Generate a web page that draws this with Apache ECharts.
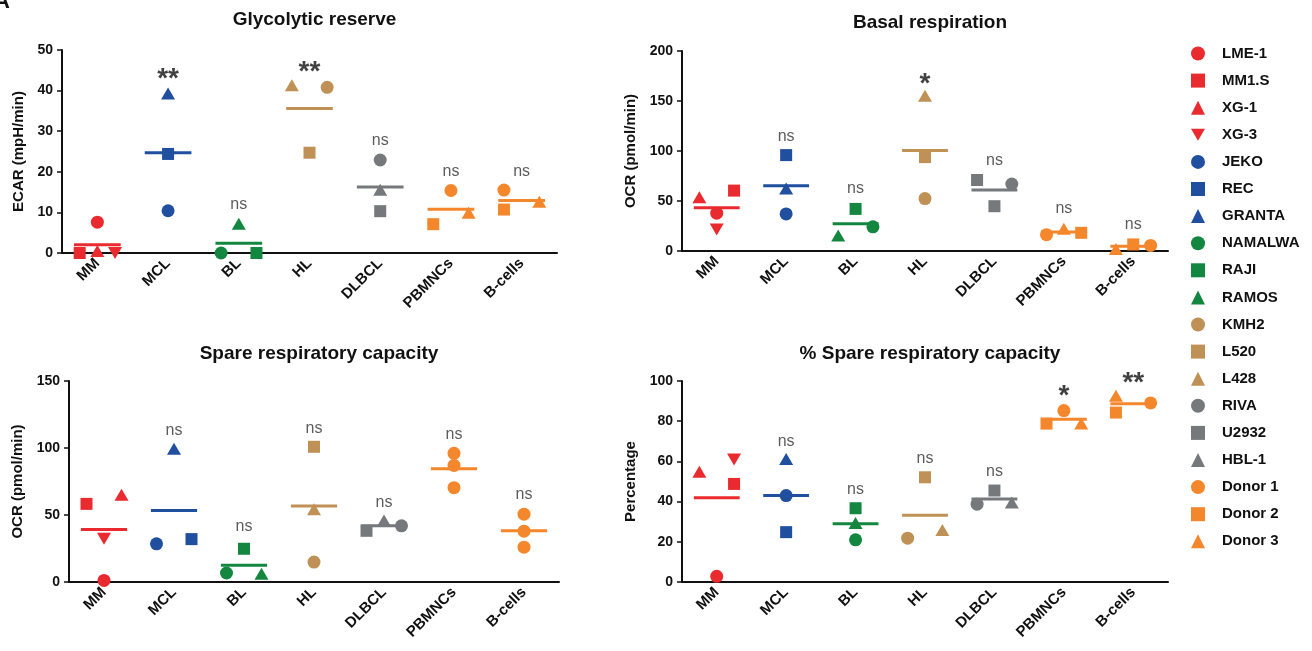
<!DOCTYPE html>
<html>
<head>
<meta charset="utf-8">
<script src="https://cdn.jsdelivr.net/npm/echarts@6/dist/echarts.min.js"></script>
<style>
html, body { margin: 0; padding: 0; background: #fff; }
#chart { width: 1312px; height: 651px; }
</style>
</head>
<body>
<div id="chart"></div>
<script>
var categories = ['MM', 'MCL', 'BL', 'HL', 'DLBCL', 'PBMNCs', 'B-cells'];
var cellLines = ['LME-1', 'MM1.S', 'XG-1', 'XG-3', 'JEKO', 'REC', 'GRANTA', 'NAMALWA', 'RAJI', 'RAMOS',
    'KMH2', 'L520', 'L428', 'RIVA', 'U2932', 'HBL-1', 'Donor 1', 'Donor 2', 'Donor 3'];

// one entry per plotted point: its cell line and its group
var pointLine = ['LME-1', 'MM1.S', 'XG-1', 'XG-3', 'JEKO', 'REC', 'GRANTA', 'NAMALWA', 'RAJI', 'RAMOS',
    'KMH2', 'L520', 'L428', 'RIVA', 'U2932', 'HBL-1', 'Donor 1', 'Donor 2', 'Donor 3', 'Donor 1', 'Donor 2', 'Donor 3'];
var pointGroup = [0, 0, 0, 0, 1, 1, 1, 2, 2, 2, 3, 3, 3, 4, 4, 4, 5, 5, 5, 6, 6, 6];

var glycolyticReserve = [7.6, 0, 0.5, 0, 10.4, 24.4, 39.3, 0, 0, 7.2, 40.8, 24.7, 41.3, 22.9, 10.3, 15.6, 15.4, 7.1, 9.9, 15.5, 10.7, 12.6];
var basalRespiration = [37.8, 60.4, 53.7, 21.6, 37.1, 95.9, 62.4, 24.2, 42.1, 15.6, 52.4, 93.9, 155.2, 67, 44.8, 71.0, 16.3, 18.2, 22.2, 5.6, 6.6, 2];
var spareCapacity = [1.2, 58.3, 65.2, 32.2, 28.5, 32, 99.4, 6.7, 24.8, 6.2, 14.9, 100.9, 54.3, 41.9, 38.2, 45.9, 96, 87, 70.4, 50.6, 37.9, 26];
var spareCapacityPct = [2.8, 48.8, 54.9, 61, 43, 24.8, 61.2, 21, 36.7, 29.3, 21.8, 52.1, 25.9, 38.7, 45.5, 39.5, 85.3, 78.8, 78.8, 89.1, 84.3, 92.6];

var glycolyticSig = ['', '**', 'ns', '**', 'ns', 'ns', 'ns'];
var glycolyticSigAt = [null, 44.1, 12.0, 45.8, 27.7, 20.1, 20.1];
var basalSig = ['', 'ns', 'ns', '*', 'ns', 'ns', 'ns'];
var basalSigAt = [null, 114.4, 62.4, 172, 90.2, 42.1, 26.2];
var spareSig = ['', 'ns', 'ns', 'ns', 'ns', 'ns', 'ns'];
var spareSigAt = [null, 112.8, 41.2, 114.8, 59, 110.3, 65.2];
var pctSig = ['', 'ns', 'ns', 'ns', 'ns', '*', '**'];
var pctSigAt = [null, 70.1, 45.8, 61.2, 54.7, 94.9, 101.2];

// horizontal slot of each point inside its group (-1 left, 0 centre, 1 right)
var glycolyticSlot = [0, -1, 0, 1, 0, 0, 0, -1, 1, 0, 1, 0, -1, 0, 0, 0, 0, -1, 1, -1, -1, 1];
var basalSlot = [0, 1, -1, 0, 0, 0, 0, 1, 0, -1, 0, 0, 0, 1, 0, -1, -1, 1, 0, 1, 0, -1];
var spareSlot = [0, -1, 1, 0, -1, 1, 0, -1, 0, 1, 0, 0, 0, 1, -1, 0, 0, 0, 0, 0, 0, 0];
var pctSlot = [0, 1, -1, 1, 0, 0, 0, 0, 0, 0, -1, 0, 1, -1, 0, 1, 0, -1, 1, 1, -1, -1];

var red = '#E92A2E', blue = '#1F4F9E', green = '#138740', tan = '#BF9156', gray = '#76787B', orange = '#F4862C';
var groupColors = [red, blue, green, tan, gray, orange, orange];
var downTriangle = 'path://M0,0L10,0L5,8.6Z';
var lineColor = [red, red, red, red, blue, blue, blue, green, green, green, tan, tan, tan, gray, gray, gray, orange, orange, orange];
var lineShape = ['circle', 'rect', 'triangle', downTriangle];
var lineShapeIdx = [0, 1, 2, 3, 0, 1, 2, 0, 1, 2, 0, 1, 2, 0, 1, 2, 0, 1, 2];

var panels = [
    { title: 'Glycolytic reserve', yName: 'ECAR (mpH/min)', values: glycolyticReserve, slot: glycolyticSlot, sig: glycolyticSig, sigAt: glycolyticSigAt, max: 50, interval: 10,
      grid: { left: 62, top: 50, width: 495, height: 203 }, titleTop: 5, nameGap: 36, over: {} },
    { title: 'Basal respiration', yName: 'OCR (pmol/min)', values: basalRespiration, slot: basalSlot, sig: basalSig, sigAt: basalSigAt, max: 200, interval: 50,
      grid: { left: 682, top: 51, width: 486, height: 200 }, titleTop: 8, nameGap: 44, over: { 15: 'rect' } },
    { title: 'Spare respiratory capacity', yName: 'OCR (pmol/min)', values: spareCapacity, slot: spareSlot, sig: spareSig, sigAt: spareSigAt, max: 150, interval: 50,
      grid: { left: 69, top: 381, width: 490, height: 201 }, titleTop: 339, nameGap: 44, over: { 17: 'circle', 18: 'circle', 20: 'circle', 21: 'circle' } },
    { title: '% Spare respiratory capacity', yName: 'Percentage', values: spareCapacityPct, slot: pctSlot, sig: pctSig, sigAt: pctSigAt, max: 100, interval: 20,
      grid: { left: 682, top: 381, width: 486, height: 201 }, titleTop: 339, nameGap: 44, over: {} }
];

function symbolSize(shape) {
    if (shape === 'circle') return 13;
    if (shape === 'rect') return 12;
    return [14, 12];
}

var grids = [], xAxes = [], yAxes = [], titles = [], series = [];

panels.forEach(function (p, k) {
    p.grid.outerBoundsMode = 'none';
    p.grid.containLabel = false;
    grids.push(p.grid);
    titles.push({
        text: p.title,
        left: p.grid.left + p.grid.width / 2,
        top: p.titleTop,
        textAlign: 'center',
        textStyle: { fontFamily: 'Liberation Sans', fontWeight: 'bold', fontSize: 19, color: '#111' }
    });
    xAxes.push({
        type: 'category', gridIndex: k, data: categories, boundaryGap: true,
        axisLine: { onZero: false, lineStyle: { color: '#111', width: 2 } },
        axisTick: { alignWithLabel: true, length: 5, lineStyle: { color: '#111', width: 1.5 } },
        axisLabel: { rotate: 45, margin: 8, color: '#111', fontFamily: 'Liberation Sans', fontWeight: 'bold', fontSize: 15 }
    });
    xAxes.push({ type: 'value', gridIndex: k, min: -0.5, max: 6.5, show: false });
    yAxes.push({
        type: 'value', gridIndex: k, min: 0, max: p.max, interval: p.interval,
        name: p.yName, nameLocation: 'middle', nameGap: p.nameGap,
        nameTextStyle: { fontFamily: 'Liberation Sans', fontWeight: 'bold', fontSize: 15, color: '#111' },
        axisLine: { show: true, onZero: false, lineStyle: { color: '#111', width: 2 } },
        axisTick: { show: true, length: 5, lineStyle: { color: '#111', width: 1.5 } },
        axisLabel: { margin: 9, color: '#111', fontFamily: 'Liberation Sans', fontWeight: 'bold', fontSize: 14 },
        splitLine: { show: false }
    });

    // group means
    var means = categories.map(function (c, g) {
        var sum = 0, n = 0;
        for (var i = 0; i < p.values.length; i++) {
            if (pointGroup[i] === g) { sum += p.values[i]; n++; }
        }
        return [g, sum / n];
    });
    series.push({
        type: 'custom', xAxisIndex: 2 * k + 1, yAxisIndex: k, z: 2, clip: false,
        encode: { x: 0, y: 1 },
        data: means,
        renderItem: function (params, api) {
            var g = api.value(0);
            var a = api.coord([g - 0.33, api.value(1)]);
            var b = api.coord([g + 0.33, api.value(1)]);
            return { type: 'line', shape: { x1: a[0], y1: a[1], x2: b[0], y2: b[1] }, style: { stroke: groupColors[g], lineWidth: 3 } };
        }
    });

    cellLines.forEach(function (name, j) {
        var shape = lineShape[lineShapeIdx[j]];
        var data = [];
        for (var i = 0; i < pointLine.length; i++) {
            if (pointLine[i] !== name) continue;
            var item = { value: [pointGroup[i] + p.slot[i] * 0.25, p.values[i]] };
            if (p.over[i]) {
                item.symbol = p.over[i];
                item.symbolSize = symbolSize(p.over[i]);
            }
            data.push(item);
        }
        series.push({
            name: name, type: 'scatter', xAxisIndex: 2 * k + 1, yAxisIndex: k, z: 3, clip: false,
            symbol: shape, symbolSize: symbolSize(shape),
            itemStyle: { color: lineColor[j], opacity: 1 },
            data: data
        });
    });

    // significance marks
    var sigData = [];
    p.sig.forEach(function (s, g) {
        if (!s) return;
        var star = s.charAt(0) === '*';
        sigData.push({
            value: [g, p.sigAt[g]],
            label: {
                formatter: s,
                color: star ? '#111' : '#333',
                fontSize: star ? 28 : 16,
                fontWeight: star ? 'bold' : 'normal',
                offset: star ? [0, 5] : [0, 0]
            }
        });
    });
    series.push({
        type: 'scatter', xAxisIndex: 2 * k + 1, yAxisIndex: k, z: 4, clip: false,
        symbolSize: 0, silent: true,
        label: { show: true, position: 'inside', fontFamily: 'Liberation Sans' },
        data: sigData
    });
});

var option = {
    backgroundColor: '#fff',
    animation: false,
    title: titles,
    grid: grids,
    xAxis: xAxes,
    yAxis: yAxes,
    legend: {
        data: cellLines,
        orient: 'vertical',
        left: 1186,
        top: 41,
        itemWidth: 14,
        itemHeight: 14,
        itemGap: 12.1,
        selectedMode: false,
        textStyle: { fontFamily: 'Liberation Sans', fontWeight: 'bold', fontSize: 15, color: '#111', lineHeight: 14, padding: [0, 0, 0, 12] }
    },
    graphic: [{
        type: 'text', left: -6, top: -9,
        style: { text: 'A', font: 'bold 22px "Liberation Sans"', fill: '#111' }
    }],
    series: series
};

var myChart = echarts.init(document.getElementById('chart'));
myChart.setOption(option);
</script>
</body>
</html>
